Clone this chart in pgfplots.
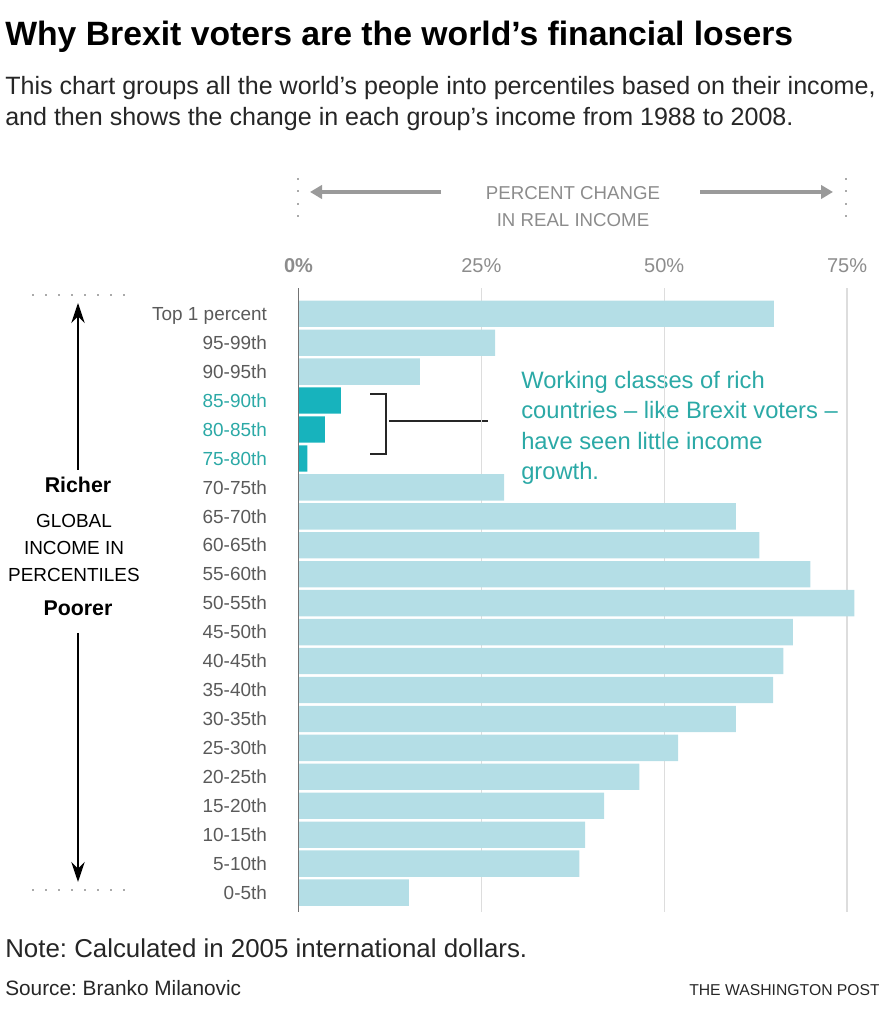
\documentclass[border=0pt]{standalone}
\usepackage{pgfplots}
\pgfplotsset{compat=1.18}
\usepackage{fontspec}
\setmainfont{Liberation Sans}
\usetikzlibrary{arrows.meta}
\definecolor{lightbar}{HTML}{B4DEE6}
\definecolor{tealbar}{HTML}{17B3BD}
\definecolor{tealtext}{HTML}{2BA9A6}
\definecolor{labgray}{HTML}{5A5A5A}
\definecolor{tickgray}{HTML}{8C8C8C}
\definecolor{arrgray}{HTML}{9A9A9A}
\definecolor{dotgray}{HTML}{AAAAAA}
\definecolor{gridgray}{HTML}{DDDDDD}
\newcommand{\fs}[1]{\fontsize{#1}{#1}\selectfont}
\frenchspacing

\pgfplotstableread{
y  v
0  15.1
1  38.4
2  39.2
3  41.8
4  46.6
5  51.9
6  59.8
7  64.9
8  66.3
9  67.6
10 76.0
11 70.0
12 63.0
13 59.8
14 28.1
18 16.6
19 26.9
20 65.0
}\maindata
\pgfplotstableread{
y  v
15 1.2
16 3.6
17 5.8
}\hidata

\begin{document}
\frenchspacing
\begin{tikzpicture}
\begin{scope}[x=0.75pt,y=0.75pt]
\path[use as bounding box] (0,0) rectangle (878,1024);

% title and subtitle
\node[anchor=base west,inner sep=0pt] at (5,978) {\fs{25.3pt}\bfseries Why Brexit voters are the world’s financial losers};
\node[anchor=base west,inner sep=0pt,text=black!85] at (5,929) {\fs{18.8pt}This chart groups all the world’s people into percentiles based on their income,};
\node[anchor=base west,inner sep=0pt,text=black!85] at (5,898) {\fs{18.8pt}and then shows the change in each group’s income from 1988 to 2008.};

% header for x
\node[anchor=base,inner sep=0pt,text=tickgray] at (573,824) {\fs{14pt}PERCENT CHANGE};
\node[anchor=base,inner sep=0pt,text=tickgray] at (573,797) {\fs{14pt}IN REAL INCOME};
\draw[arrgray,line width=2.4pt,-{Triangle[length=9pt,width=10pt]}] (441,832) -- (310,832);
\draw[arrgray,line width=2.4pt,-{Triangle[length=9pt,width=10pt]}] (700,832) -- (833,832);
\draw[dotgray,line width=1.3pt,dash pattern=on 1.3pt off 8pt] (298,846) -- (298,806);
\draw[dotgray,line width=1.3pt,dash pattern=on 1.3pt off 8pt] (846,846) -- (846,806);

% left decorations
\draw[dotgray,line width=1.3pt,dash pattern=on 1.3pt off 8.5pt] (32,729) -- (132,729);
\draw[dotgray,line width=1.3pt,dash pattern=on 1.3pt off 8.5pt] (32,134) -- (132,134);
\draw[black,line width=1.6pt,-{Stealth[length=15pt,width=10pt]}] (78,554) -- (78,721);
\draw[black,line width=1.6pt,-{Stealth[length=15pt,width=10pt]}] (78,391) -- (78,142);
\node[anchor=base,inner sep=0pt] at (78,531) {\fs{16pt}\bfseries Richer};
\node[anchor=base,inner sep=0pt] at (74,496) {\fs{14.2pt}GLOBAL};
\node[anchor=base,inner sep=0pt] at (74,469) {\fs{14.2pt}INCOME IN};
\node[anchor=base,inner sep=0pt] at (74,442) {\fs{14.2pt}PERCENTILES};
\node[anchor=base,inner sep=0pt] at (78,408) {\fs{16pt}\bfseries Poorer};

% bracket and annotation
\draw[black!85,line width=1.3pt] (370,629.7) -- (386,629.7) -- (386,569.7) -- (370,569.7);
\draw[black!85,line width=1.3pt] (389,603.3) -- (488,603.3);
\node[anchor=base west,inner sep=0pt,text=tealtext] at (521,635) {\fs{17.8pt}Working classes of rich};
\node[anchor=base west,inner sep=0pt,text=tealtext] at (521,605) {\fs{17.8pt}countries – like Brexit voters –};
\node[anchor=base west,inner sep=0pt,text=tealtext] at (521,574) {\fs{17.8pt}have seen little income};
\node[anchor=base west,inner sep=0pt,text=tealtext] at (521,544) {\fs{17.8pt}growth.};

% notes
\node[anchor=base west,inner sep=0pt,text=black!85] at (5,66) {\fs{19.4pt}Note: Calculated in 2005 international dollars.};
\node[anchor=base west,inner sep=0pt,text=black!85] at (5,28) {\fs{15.6pt}Source: Branko Milanovic};
\node[anchor=base west,inner sep=0pt,text=black!85] at (689,28) {\fs{11.8pt}THE WASHINGTON POST};
\end{scope}

\begin{axis}[
  at={(223.875pt,84.225pt)}, anchor=south west,
  scale only axis, width=411.4pt, height=468pt,
  xmin=0, xmax=75, ymin=-0.66, ymax=20.9,
  clip=false,
  axis line style={draw=none},
  tick style={draw=none},
  xmajorgrids, grid style={gridgray,line width=1pt},
  xtick={25,50,75},
  extra x ticks={0},
  extra x tick style={grid=none},
  xticklabel pos=upper,
  xticklabels={25\%,50\%,75\%},
  extra x tick labels={\textbf{0\%}},
  xticklabel style={anchor=base, yshift=11.5pt, text=tickgray, font=\fs{15pt}},
  ytick={0,...,20},
  yticklabels={0-5th,5-10th,10-15th,15-20th,20-25th,25-30th,30-35th,35-40th,40-45th,45-50th,50-55th,55-60th,60-65th,65-70th,70-75th,{\color{tealtext}75-80th},{\color{tealtext}80-85th},{\color{tealtext}85-90th},90-95th,95-99th,Top 1 percent},
  yticklabel style={anchor=base east, inner sep=0pt, xshift=-23.5pt, yshift=-5pt, text=labgray, font=\fs{14.2pt}},
  /pgf/number format/assume math mode=true,
]
\addplot[xbar, bar shift=0pt, bar width=0.91, fill=lightbar, draw=none] table[x=v,y=y] {\maindata};
\addplot[xbar, bar shift=0pt, bar width=0.91, fill=tealbar, draw=none] table[x=v,y=y] {\hidata};
\draw[black!55,line width=0.9pt] (axis cs:0,-0.66) -- (axis cs:0,20.9);
\end{axis}
\end{tikzpicture}
\end{document}
